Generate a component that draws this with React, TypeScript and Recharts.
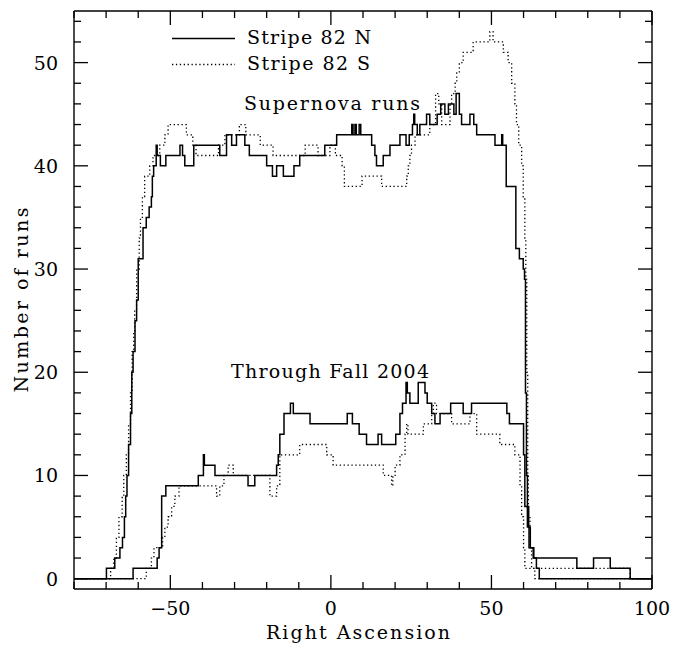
import React from "react";
import { LineChart, Line, XAxis, YAxis } from "recharts";

// step edges (RA) and run counts
const snNorthX = [-80, -69.9, -67.3, -65.7, -64.9, -64.3, -63.9, -63.5, -63.0, -62.4, -62.0, -61.6, -61.0, -60.5, -60.0, -58.5, -57.5, -56.6, -55.9, -55.6, -55.2, -54.4, -54.1, -53.1, -51.4, -47.0, -46.2, -45.5, -42.7, -34.6, -32.5, -30.9, -29.4, -26.8, -25.4, -20.0, -18.2, -16.9, -14.8, -11.5, -9.7, -1.9, 1.8, 6.5, 6.9, 7.5, 7.9, 8.8, 9.3, 12.7, 13.7, 14.2, 16.3, 18.4, 21.5, 23.4, 24.4, 25.4, 25.8, 26.1, 26.9, 27.7, 29.8, 30.8, 33.1, 34.2, 35.5, 36.6, 38.3, 39.0, 40.0, 40.7, 43.3, 44.5, 45.4, 51.1, 53.2, 53.5, 54.6, 57.6, 58.7, 59.9, 60.3, 60.6, 60.9, 61.2, 61.6, 62.1, 63.0, 64.0, 64.9, 100];
const snNorthY = [0, 1, 2, 3, 4, 6, 8, 10, 13, 16, 20, 22, 25, 27, 31, 34, 35, 36, 37, 39, 40, 42, 41, 40, 41, 42, 41, 40, 42, 41, 43, 42, 43, 42, 41, 40, 39, 40, 39, 40, 41, 42, 43, 44, 43, 44, 43, 44, 43, 42, 41, 40, 41, 42, 43, 42, 43, 44, 45, 44, 43, 44, 45, 44, 45, 46, 45, 46, 45, 47, 45, 44, 45, 44, 43, 42, 43, 42, 38, 32, 31, 30, 29, 18, 10, 7, 5, 3, 2, 1, 0, 0];

const snSouthX = [-80, -68.6, -67.6, -66.8, -66.0, -65.0, -64.5, -63.7, -63.0, -62.4, -61.9, -61.4, -61.1, -60.5, -59.7, -59.3, -58.7, -58.0, -56.4, -55.4, -53.3, -51.7, -50.7, -45.0, -43.0, -42.0, -35.0, -33.0, -28.5, -26.5, -22.0, -18.0, -8.0, -4.0, -0.3, 1.4, 3.5, 4.2, 9.7, 15.8, 23.6, 24.1, 24.6, 25.1, 26.2, 30.8, 32.6, 33.6, 34.5, 37.1, 37.6, 38.7, 39.2, 40.0, 41.2, 44.3, 47.4, 49.5, 50.5, 53.7, 55.2, 56.3, 57.3, 57.8, 58.5, 59.4, 59.9, 60.4, 60.7, 61.0, 61.3, 61.5, 62.0, 62.5, 63.5, 100];
const snSouthY = [0, 1, 2, 4, 6, 8, 10, 12, 15, 18, 22, 24, 26, 30, 33, 35, 37, 39, 40, 41, 42, 43, 44, 43, 42, 41, 42, 43, 44, 43, 42, 41, 42, 41, 42, 41, 40, 38, 39, 38, 39, 40, 41, 42, 43, 44, 47, 46, 44, 46, 47, 48, 49, 50, 51, 52, 52, 53, 52, 51, 50, 48, 46, 44, 42, 40, 37, 33, 29, 20, 10, 6, 3, 1, 0, 0];

const fallNorthX = [-80, -61.6, -54.1, -53.5, -52.7, -51.4, -41.3, -39.7, -39.4, -36.1, -25.8, -23.7, -16.9, -16.4, -15.9, -14.6, -12.6, -11.7, -6.5, 5.1, 6.7, 8.8, 11.1, 14.7, 15.8, 20.2, 21.5, 22.3, 23.4, 23.8, 24.6, 27.2, 29.3, 30.0, 31.4, 32.4, 34.0, 37.3, 41.2, 43.8, 54.8, 55.6, 60.0, 60.4, 61.2, 61.7, 63.2, 76.6, 81.8, 87.0, 93.2, 100];
const fallNorthY = [0, 1, 2, 3, 8, 9, 10, 12, 11, 10, 9, 10, 11, 12, 14, 16, 17, 16, 15, 16, 15, 14, 13, 14, 13, 14, 16, 17, 19, 18, 17, 19, 18, 17, 16, 15, 16, 17, 16, 17, 16, 15, 12, 7, 5, 3, 2, 1, 2, 1, 0, 0];

const fallSouthX = [-80, -57.5, -55.9, -55.1, -52.4, -51.7, -50.7, -49.6, -48.6, -47.3, -35.6, -34.6, -33.3, -32.0, -30.4, -19.0, -16.9, -15.9, -9.7, -1.3, 0.7, 16.3, 18.9, 19.3, 20.0, 21.5, 23.1, 23.6, 24.0, 28.8, 31.4, 31.9, 32.9, 37.6, 43.3, 45.4, 52.6, 57.3, 58.9, 59.4, 60.0, 60.4, 93.2, 100];
const fallSouthY = [0, 1, 2, 3, 4, 5, 6, 7, 8, 9, 8, 9, 10, 11, 10, 8, 9, 12, 13, 12, 11, 10, 9, 10, 11, 12, 14, 15, 14, 15, 16, 17, 16, 15, 16, 14, 13, 12, 9, 6, 3, 1, 0, 0];

const xTicks = [-80, -70, -60, -50, -40, -30, -20, -10, 0, 10, 20, 30, 40, 50, 60, 70, 80, 90, 100];
const yTicks = [0, 2, 4, 6, 8, 10, 12, 14, 16, 18, 20, 22, 24, 26, 28, 30, 32, 34, 36, 38, 40, 42, 44, 46, 48, 50, 52, 54];
const legendLabels = ["Stripe 82 N", "Stripe 82 S"];
const annotations = ["Supernova runs", "Through Fall 2004"];
const xTitle = "Right Ascension";
const yTitle = "Number of runs";

const steps = (xs: number[], ys: number[]) => xs.map((x, i) => ({ x, y: ys[i] }));

const FONT = "'DejaVu Serif', serif";
const INK = "#000";

const fmt = (v: number) => (v < 0 ? `\u2212${-v}` : `${v}`);

const tickMark = (d: string) => <path d={d} stroke={INK} strokeWidth={1.3} fill="none" />;

const BottomTick = (props: any) => {
  const { x, y, payload } = props;
  const v = payload.value;
  const major = v % 50 === 0;
  return (
    <g>
      {tickMark(`M${x},${y}V${y - (major ? 14 : 7)}`)}
      {major && (
        <text x={x} y={y + 26} textAnchor="middle" fontFamily={FONT} fontSize={19} fill={INK}>
          {fmt(v)}
        </text>
      )}
    </g>
  );
};

const TopTick = (props: any) => {
  const { x, y, payload } = props;
  const major = payload.value % 50 === 0;
  return <g>{tickMark(`M${x},${y}V${y + (major ? 14 : 7)}`)}</g>;
};

const LeftTick = (props: any) => {
  const { x, y, payload } = props;
  const v = payload.value;
  const major = v % 10 === 0;
  return (
    <g>
      {tickMark(`M${x},${y}H${x + (major ? 14 : 7)}`)}
      {major && (
        <text x={x - 16} y={y + 7} textAnchor="end" fontFamily={FONT} fontSize={19} fill={INK}>
          {fmt(v)}
        </text>
      )}
    </g>
  );
};

const RightTick = (props: any) => {
  const { x, y, payload } = props;
  const major = payload.value % 10 === 0;
  return <g>{tickMark(`M${x},${y}H${x - (major ? 14 : 7)}`)}</g>;
};

const series = [
  { key: "snN", data: steps(snNorthX, snNorthY), dash: undefined },
  { key: "snS", data: steps(snSouthX, snSouthY), dash: "1.3 2.6" },
  { key: "fallN", data: steps(fallNorthX, fallNorthY), dash: undefined },
  { key: "fallS", data: steps(fallSouthX, fallSouthY), dash: "1.3 2.6" },
];

const axisLine = { stroke: INK, strokeWidth: 1.4 };

export default function App() {
  return (
    <div style={{ position: "absolute", left: 0, top: 0, width: 673, height: 645, background: "#fff" }}>
      <LineChart width={673} height={645} margin={{ top: 10, right: 20, bottom: 0, left: 0 }}>
        <XAxis
          xAxisId="b"
          type="number"
          dataKey="x"
          domain={[-80, 100]}
          ticks={xTicks}
          interval={0}
          allowDataOverflow
          height={56}
          tickSize={0}
          tickMargin={0}
          tick={BottomTick}
          axisLine={axisLine}
        />
        <XAxis
          xAxisId="t"
          orientation="top"
          type="number"
          dataKey="x"
          domain={[-80, 100]}
          ticks={xTicks}
          interval={0}
          allowDataOverflow
          height={1}
          tickSize={0}
          tickMargin={0}
          tick={TopTick}
          axisLine={axisLine}
        />
        <YAxis
          yAxisId="l"
          type="number"
          domain={[-1, 55]}
          ticks={yTicks}
          interval={0}
          allowDataOverflow
          width={74}
          tickSize={0}
          tickMargin={0}
          tick={LeftTick}
          axisLine={axisLine}
        />
        <YAxis
          yAxisId="r"
          orientation="right"
          type="number"
          domain={[-1, 55]}
          ticks={yTicks}
          interval={0}
          allowDataOverflow
          width={1}
          tickSize={0}
          tickMargin={0}
          tick={RightTick}
          axisLine={axisLine}
        />
        {series.map((s) => (
          <Line
            key={s.key}
            xAxisId="b"
            yAxisId="l"
            data={s.data}
            dataKey="y"
            type="stepAfter"
            stroke={INK}
            strokeWidth={s.dash ? 1.3 : 1.5}
            strokeDasharray={s.dash}
            dot={false}
            activeDot={false}
            isAnimationActive={false}
          />
        ))}
      </LineChart>
      <svg
        width={673}
        height={645}
        style={{ position: "absolute", left: 0, top: 0, pointerEvents: "none" }}
      >
        <line x1={172} x2={235} y1={38.5} y2={38.5} stroke={INK} strokeWidth={1.5} />
        <line x1={172} x2={235} y1={64.5} y2={64.5} stroke={INK} strokeWidth={1.3} strokeDasharray="1.3 2.6" />
        <text x={247} y={44} fontFamily={FONT} fontSize={19} textLength={124} lengthAdjust="spacing" fill={INK}>
          {legendLabels[0]}
        </text>
        <text x={247} y={70} fontFamily={FONT} fontSize={19} textLength={123} lengthAdjust="spacing" fill={INK}>
          {legendLabels[1]}
        </text>
        <text x={244} y={110} fontFamily={FONT} fontSize={19} textLength={176} lengthAdjust="spacing" fill={INK}>
          {annotations[0]}
        </text>
        <text x={231} y={378} fontFamily={FONT} fontSize={19} textLength={198} lengthAdjust="spacing" fill={INK}>
          {annotations[1]}
        </text>
        <text x={358} y={639} textAnchor="middle" fontFamily={FONT} fontSize={19} textLength={184} lengthAdjust="spacing" fill={INK}>
          {xTitle}
        </text>
        <text
          x={0}
          y={0}
          transform="translate(28,300) rotate(-90)"
          textAnchor="middle"
          fontFamily={FONT}
          fontSize={19}
          textLength={185}
          lengthAdjust="spacing"
          fill={INK}
        >
          {yTitle}
        </text>
      </svg>
    </div>
  );
}
